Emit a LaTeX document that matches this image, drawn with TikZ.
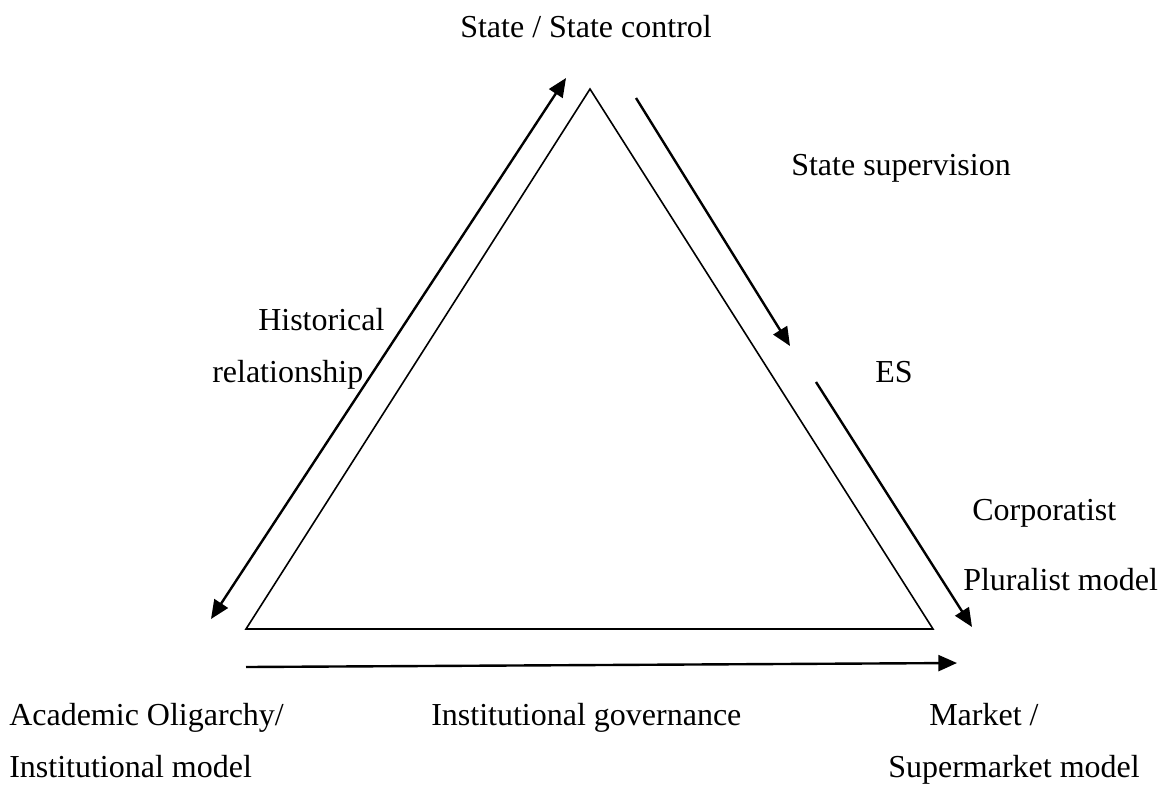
\documentclass[tikz,border=0pt]{standalone}
\usepackage{fontspec}
\setmainfont{Liberation Serif}
\usetikzlibrary{arrows.meta}
\begin{document}
\begin{tikzpicture}[x=0.75pt,y=0.75pt,yscale=-1,xscale=1,
  lbl/.style={anchor=base west,inner sep=0pt,font=\fontsize{24}{29}\selectfont},
  side/.style={line width=1.2pt,line join=miter},
  flow/.style={line width=1.8pt,-{Triangle[length=14pt,width=12pt]}}]
\useasboundingbox (0,0) rectangle (1163,790);

%Shape: Triangle
\coordinate (apex) at (590,89);
\coordinate (oligarchy) at (246,629);
\coordinate (market) at (933,629);
\draw [side] (apex) -- (market) -- (oligarchy) -- cycle;

%Straight Lines (arrows)
\coordinate (histA) at (211,619);
\coordinate (histB) at (566,78);
\coordinate (supA) at (636,98);
\coordinate (supB) at (790,346);
\coordinate (corpA) at (816,382);
\coordinate (corpB) at (972,627);
\coordinate (govA) at (246,667);
\coordinate (govB) at (957,663);
\draw [flow,{Triangle[length=14pt,width=12pt]}-{Triangle[length=14pt,width=12pt]}] (histA) -- (histB);
\draw [flow] (supA) -- (supB);
\draw [flow] (corpA) -- (corpB);
\draw [flow] (govA) -- (govB);

% Text Nodes
\node [lbl] (state) at (460,37) {State / State control};
\node [lbl] (supervision) at (791,175) {State supervision};
\node [lbl] (historical) at (258,330) {Historical};
\node [lbl] (relationship) at (212,382) {relationship};
\node [lbl] (es) at (875,382) {ES};
\node [lbl] (corporatist) at (972,520) {Corporatist};
\node [lbl] (pluralist) at (963,590) {Pluralist model};
\node [lbl] (academic) at (9,725) {Academic Oligarchy/};
\node [lbl] (institutional) at (9,777) {Institutional model};
\node [lbl] (governance) at (431,725) {Institutional governance};
\node [lbl] (marketA) at (929,725) {Market /};
\node [lbl] (supermarket) at (888,777) {Supermarket model};
\end{tikzpicture}
\end{document}
